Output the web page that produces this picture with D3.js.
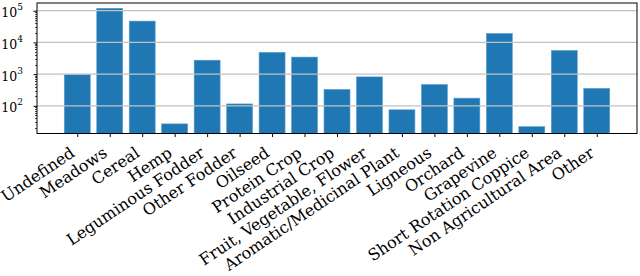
<!DOCTYPE html>
<html>
<head>
<meta charset="utf-8">
<script src="https://cdn.jsdelivr.net/npm/d3@7"></script>
<style>
  body { margin: 0; background: #fff; }
  svg { display: block; }
  text { font-family: "DejaVu Serif", serif; fill: #000; }
</style>
</head>
<body>
<div class="chart"></div>
<script>
// categories and counts (log scale)
let categories = ['Undefined', 'Meadows', 'Cereal', 'Hemp', 'Leguminous Fodder', 'Other Fodder',
	'Oilseed', 'Protein Crop', 'Industrial Crop', 'Fruit, Vegetable, Flower', 'Aromatic/Medicinal Plant',
	'Ligneous', 'Orchard', 'Grapevine', 'Short Rotation Coppice', 'Non Agricultural Area', 'Other'];
let counts = [980, 119000, 47000, 27, 2750, 115, 4850, 3450, 330, 820, 75, 470, 175, 19200, 22, 5600, 355];
let yTicks = [100, 1000, 10000, 100000];
let yTickExp = ['2', '3', '4', '5'];

let W = 640, H = 276;
let margin = {top: 3, right: 3, bottom: 142.5, left: 37};
let width = W - margin.left - margin.right;
let height = H - margin.top - margin.bottom;

let svg = d3.select('.chart')
	.append('svg')
	.attr('width', W)
	.attr('height', H)
	.append('g')
	.attr('transform', 'translate(' + margin.left + ', ' + margin.top + ')');

let n = categories.length;
let xScale = d3.scaleLinear()
	.domain([-0.4 - 0.05 * (n - 0.2), n - 0.6 + 0.05 * (n - 0.2)])
	.range([0, width]);

let yScale = d3.scaleLog()
	.domain([Math.pow(10, 1.128), Math.pow(10, 5.243)])
	.range([height, 0]);

// bars
svg.selectAll('.bar')
	.data(counts)
	.enter()
	.append('rect')
	.attr('class', 'bar')
	.attr('x', (d, i) => xScale(i - 0.4))
	.attr('width', xScale(0.8) - xScale(0))
	.attr('y', d => yScale(d))
	.attr('height', d => height - yScale(d))
	.style('fill', '#1f77b4')
	.style('stroke', '#5d9fd0')
	.style('stroke-width', 0.6);

// grid on top of bars
svg.selectAll('.grid')
	.data(yTicks)
	.enter()
	.append('line')
	.attr('x1', 0)
	.attr('x2', width)
	.attr('y1', d => yScale(d))
	.attr('y2', d => yScale(d))
	.style('stroke', '#c2c2c2')
	.style('stroke-width', 1.2);

// minor ticks
let minor = [];
for (let e = 1; e <= 5; e++) {
	for (let m = 2; m <= 9; m++) {
		let v = m * Math.pow(10, e);
		if (v > yScale.domain()[0] && v < yScale.domain()[1]) minor.push(v);
	}
}
svg.selectAll('.minor')
	.data(minor)
	.enter()
	.append('line')
	.attr('x1', -2)
	.attr('x2', 0)
	.attr('y1', d => Math.round(yScale(d)) + 0.5)
	.attr('y2', d => Math.round(yScale(d)) + 0.5)
	.style('stroke', '#000')
	.style('stroke-width', 0.7);

// major y ticks + labels
let yAxis = d3.axisLeft(yScale)
	.tickValues(yTicks)
	.tickSize(3.5)
	.tickFormat('');
let gy = svg.append('g').call(yAxis);
gy.select('.domain').remove();
gy.selectAll('.tick line').style('stroke-width', 1);

let ylab = svg.selectAll('.ylab')
	.data(yTicks)
	.enter()
	.append('text')
	.attr('x', -14)
	.attr('y', d => yScale(d) + 6.5)
	.attr('text-anchor', 'end')
	.style('font-size', '12.5px');
ylab.append('tspan').text('10');
ylab.append('tspan')
	.attr('dy', -7)
	.style('font-size', '9px')
	.text((d, i) => yTickExp[i]);

// x ticks
let xAxis = d3.axisBottom(xScale)
	.tickValues(d3.range(n))
	.tickSize(3.5)
	.tickFormat('');
let gx = svg.append('g')
	.attr('transform', 'translate(0, ' + height + ')')
	.call(xAxis);
gx.select('.domain').remove();
gx.selectAll('.tick line').style('stroke-width', 1);

let angle = 34;
svg.selectAll('.xlab')
	.data(categories)
	.enter()
	.append('text')
	.attr('text-anchor', 'end')
	.style('font-size', '16px')
	.attr('transform', (d, i) => 'translate(' + (xScale(i) - 1.5) + ', ' + (height + 22) + ') rotate(-' + angle + ')')
	.text(d => d);

// frame
svg.append('rect')
	.attr('width', width)
	.attr('height', height)
	.style('fill', 'none')
	.style('stroke', '#000')
	.style('stroke-width', 1);
</script>
</body>
</html>
